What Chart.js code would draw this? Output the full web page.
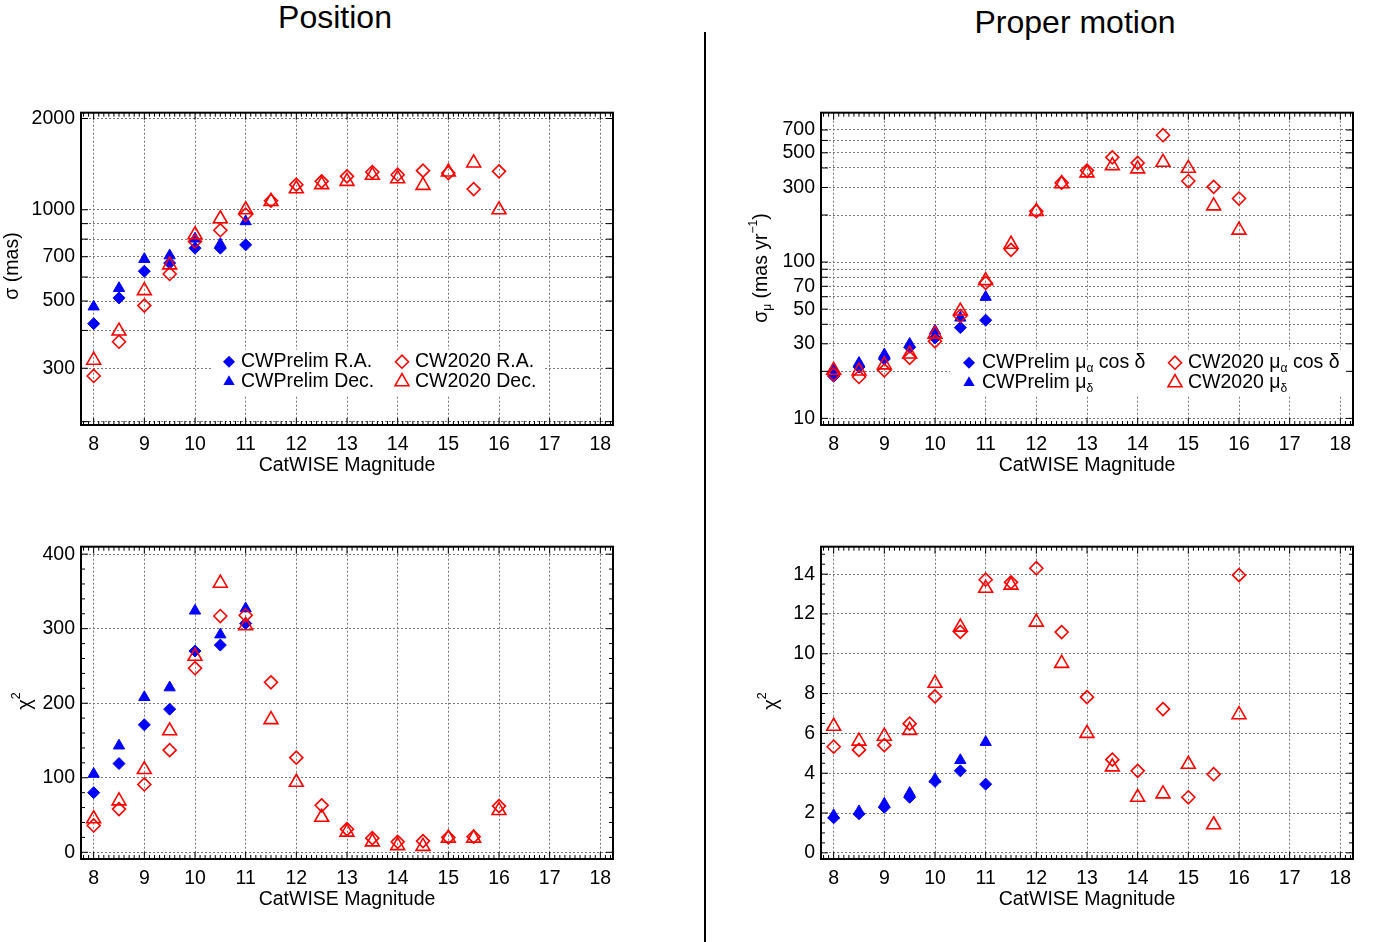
<!DOCTYPE html>
<html>
<head>
<meta charset="utf-8">
<title>CatWISE astrometry</title>
<script src="https://cdn.jsdelivr.net/npm/chart.js@4/dist/chart.umd.min.js"></script>
<style>
  body { margin: 0; width: 1375px; height: 942px; background: #fff; position: relative; overflow: hidden;
         font-family: "Liberation Sans", Arial, sans-serif; }
  .title { position: absolute; font-size: 32px; line-height: 32px; color: #000; text-align: center; width: 400px; }
  .panel { position: absolute; }
  #divider { position: absolute; left: 704px; top: 32px; width: 2px; height: 910px; background: #000; }
</style>
</head>
<body>
<div class="title" style="left:135px; top:1px;">Position</div>
<div class="title" style="left:875px; top:6px;">Proper motion</div>
<div id="divider"></div>

<canvas class="panel" id="posSig" width="640" height="395" style="left:0; top:95px;"></canvas>
<canvas class="panel" id="pmSig" width="635" height="395" style="left:740px; top:95px;"></canvas>
<canvas class="panel" id="posChi" width="640" height="395" style="left:0; top:529px;"></canvas>
<canvas class="panel" id="pmChi" width="635" height="395" style="left:740px; top:529px;"></canvas>

<script>
// magnitude bins
const mags = [8, 8.5, 9, 9.5, 10, 10.5, 11, 11.5, 12, 12.5, 13, 13.5, 14, 14.5, 15, 15.5, 16];
const xTicks = [8, 9, 10, 11, 12, 13, 14, 15, 16, 17, 18];

// Position sigma (mas) -- CWPrelim only goes to mag 11
const posSigPrelimRA  = [421, 512, 627, 667, 747, 747, 766];
const posSigPrelimDec = [479, 551, 687, 706, 802, 770, 915];
const posSigCW20RA  = [283, 367, 483, 614, 786, 856, 963, 1071, 1210, 1241, 1289, 1332, 1305, 1346, 1322, 1170, 1339];
const posSigCW20Dec = [319, 398, 541, 658, 827, 934, 1000, 1066, 1173, 1210, 1241, 1299, 1266, 1203, 1332, 1427, 1000];

// Proper motion sigma (mas/yr)
const pmSigPrelimRA  = [18.6, 21.3, 24, 28.5, 32.7, 38.1, 42.5];
const pmSigPrelimDec = [20.7, 22.6, 25.6, 29.9, 36.3, 44, 59.7];
const pmSigCW20RA  = [19.1, 18.4, 20.3, 24.4, 31.1, 45.2, 73.6, 119.7, 211.6, 322, 385, 468, 431, 648, 330, 303, 255];
const pmSigCW20Dec = [20.3, 20.1, 22, 25.8, 34.6, 48.6, 76.1, 130, 211, 317, 372, 414, 395, 435, 398, 229, 160];

// Position chi^2
const posChiPrelimRA  = [80, 119, 171, 192, 270, 278, 307];
const posChiPrelimDec = [105, 143, 208, 221, 324, 292, 327];
const posChiCW20RA  = [36, 58, 91, 137, 247, 317, 318, 228, 127, 63, 31, 19, 14, 15, 20, 21, 62];
const posChiCW20Dec = [45, 69, 111, 163, 263, 361, 304, 178, 94, 47, 27, 14, 9, 8, 19, 19, 56];

// Proper motion chi^2
const pmChiPrelimRA  = [1.76, 1.96, 2.29, 2.79, 3.59, 4.12, 3.45];
const pmChiPrelimDec = [1.88, 2.08, 2.46, 3.0, 3.7, 4.65, 5.56];
const pmChiCW20RA  = [5.33, 5.17, 5.41, 6.49, 7.86, 11.1, 13.72, 13.59, 14.3, 11.09, 7.82, 4.68, 4.12, 7.22, 2.79, 3.95, 13.95];
const pmChiCW20Dec = [6.36, 5.61, 5.86, 6.15, 8.52, 11.34, 13.29, 13.45, 11.59, 9.52, 6.0, 4.32, 2.79, 2.96, 4.45, 1.41, 6.94];

// y tick values (gridlines) and which ones carry labels
const posSigGrid = [200, 300, 400, 500, 600, 700, 800, 900, 1000, 2000];
const posSigLabels = [300, 500, 700, 1000, 2000];
const pmSigGrid = [10, 20, 30, 40, 50, 60, 70, 80, 90, 100, 200, 300, 400, 500, 600, 700];
const pmSigLabels = [10, 30, 50, 70, 100, 300, 500, 700];
const posChiTicks = [0, 100, 200, 300, 400];
const pmChiTicks = [0, 2, 4, 6, 8, 10, 12, 14];

// legend text, split in pieces so sub/superscripts can be drawn
const posLegend = [
  [{t: 'CWPrelim R.A.'}], [{t: 'CWPrelim Dec.'}], [{t: 'CW2020 R.A.'}], [{t: 'CW2020 Dec.'}]
];
const pmLegend = [
  [{t: 'CWPrelim \u03bc'}, {t: '\u03b1', sub: 1}, {t: ' cos \u03b4'}],
  [{t: 'CWPrelim \u03bc'}, {t: '\u03b4', sub: 1}],
  [{t: 'CW2020 \u03bc'}, {t: '\u03b1', sub: 1}, {t: ' cos \u03b4'}],
  [{t: 'CW2020 \u03bc'}, {t: '\u03b4', sub: 1}]
];

const FONT = '"Liberation Sans", Arial, sans-serif';
const BLUE = '#0000ff';
const RED = '#ff0000';
const GRID = '#7a7a7a';

Chart.defaults.font.family = FONT;
Chart.defaults.font.size = 19;
Chart.defaults.color = '#000';

function pts(ys) {
  return ys.map((y, i) => ({x: mags[i], y: y}));
}

function series(label, ys, kind) {
  const filled = kind.startsWith('blue');
  const tri = kind.endsWith('tri');
  return {
    label: label,
    data: pts(ys),
    showLine: false,
    pointStyle: tri ? 'triangle' : 'rectRot',
    pointRadius: filled ? (tri ? 6.5 : 6) : (tri ? 8 : 6.5),
    pointHoverRadius: filled ? 6 : 7,
    pointBackgroundColor: filled ? BLUE : 'rgba(0,0,0,0)',
    pointBorderColor: filled ? BLUE : RED,
    pointBorderWidth: filled ? 1 : 1.6
  };
}

// draw text pieces with sub/superscripts
function richWidth(ctx, segs, size) {
  let w = 0;
  segs.forEach(s => {
    ctx.font = ((s.sub || s.sup) ? size * 0.62 : size) + 'px ' + FONT;
    w += ctx.measureText(s.t).width;
  });
  return w;
}
function drawRich(ctx, segs, x, y, size, align) {
  const w = richWidth(ctx, segs, size);
  let cx = align === 'center' ? x - w / 2 : x;
  ctx.textAlign = 'left';
  ctx.textBaseline = 'middle';
  segs.forEach(s => {
    const small = s.sub || s.sup;
    ctx.font = (small ? size * 0.62 : size) + 'px ' + FONT;
    const dy = s.sub ? size * 0.3 : (s.sup ? -size * 0.42 : 0);
    ctx.fillText(s.t, cx, y + dy);
    cx += ctx.measureText(s.t).width;
  });
}

function marker(ctx, kind, x, y) {
  const filled = kind.startsWith('blue');
  const tri = kind.endsWith('tri');
  const r = filled ? (tri ? 6.5 : 6) : (tri ? 8 : 6.5);
  ctx.beginPath();
  if (tri) {
    ctx.moveTo(x, y - r);
    ctx.lineTo(x + r * 0.866, y + r / 2);
    ctx.lineTo(x - r * 0.866, y + r / 2);
  } else {
    ctx.moveTo(x - r, y); ctx.lineTo(x, y - r); ctx.lineTo(x + r, y); ctx.lineTo(x, y + r);
  }
  ctx.closePath();
  if (filled) { ctx.fillStyle = BLUE; ctx.fill(); }
  else { ctx.strokeStyle = RED; ctx.lineWidth = 1.6; ctx.stroke(); }
}

// frame with inward IDL-style tick marks, plus y title and legend
const idlPlugin = {
  id: 'idl',
  beforeDatasetsDraw(chart, args, o) {
    const ctx = chart.ctx, a = chart.chartArea;
    if (!o.legend) return;
    const L = o.legend;
    ctx.save();
    ctx.fillStyle = '#fff';
    ctx.fillRect(a.left + L.box[0], a.top + L.box[1], L.box[2], L.box[3]);
    const kinds = ['blue-dia', 'blue-tri', 'red-dia', 'red-tri'];
    kinds.forEach((k, i) => {
      const col = i < 2 ? 0 : 1, row = i % 2;
      const y = a.top + L.rowY[row];
      marker(ctx, k, a.left + L.mx[col], y);
      ctx.fillStyle = '#000';
      drawRich(ctx, L.items[i], a.left + L.tx[col], y, 19.5, 'left');
    });
    ctx.restore();
  },
  afterDraw(chart, args, o) {
    const ctx = chart.ctx, a = chart.chartArea;
    const xs = chart.scales.x, ys = chart.scales.y;
    ctx.save();
    ctx.strokeStyle = '#000';
    ctx.lineWidth = 1;
    ctx.beginPath();
    const tick = (px, len, horiz) => {
      if (horiz) {
        ctx.moveTo(px, a.bottom); ctx.lineTo(px, a.bottom - len);
        ctx.moveTo(px, a.top); ctx.lineTo(px, a.top + len);
      } else {
        ctx.moveTo(a.left, px); ctx.lineTo(a.left + len, px);
        ctx.moveTo(a.right, px); ctx.lineTo(a.right - len, px);
      }
    };
    for (let v = 78; v <= 182; v++) {
      const val = v / 10;
      if (val < xs.min || val > xs.max) continue;
      tick(xs.getPixelForValue(val), v % 10 === 0 ? 7 : 4, true);
    }
    o.yMajor.forEach(v => tick(ys.getPixelForValue(v), 7, false));
    (o.yMinor || []).forEach(v => tick(ys.getPixelForValue(v), 4, false));
    ctx.stroke();
    ctx.lineWidth = 2;
    ctx.strokeRect(a.left, a.top, a.right - a.left, a.bottom - a.top);
    // y-axis title, rotated
    ctx.translate(o.yTitle.x, o.yTitle.y);
    ctx.rotate(-Math.PI / 2);
    ctx.fillStyle = '#000';
    drawRich(ctx, o.yTitle.segs, 0, 0, o.yTitle.size, 'center');
    ctx.restore();
  }
};

function makeChart(id, datasets, yOpts, idlOpts, rightPad) {
  new Chart(document.getElementById(id), {
    type: 'scatter',
    data: {datasets: datasets},
    plugins: [idlPlugin],
    options: {
      responsive: false,
      animation: false,
      events: [],
      layout: {padding: {top: 15, right: rightPad, bottom: 5, left: 0}},
      plugins: {legend: {display: false}, tooltip: {enabled: false}, idl: idlOpts},
      scales: {
        x: {
          type: 'linear', min: 7.75, max: 18.25,
          afterBuildTicks: s => { s.ticks = xTicks.map(v => ({value: v})); },
          afterFit: s => { s.height = 60; },
          grid: {color: GRID, lineWidth: 1, drawTicks: false},
          border: {display: false, dash: [2, 2]},
          ticks: {padding: 8, autoSkip: false, maxRotation: 0, font: {size: 19.5}, callback: v => String(v)},
          title: {display: true, text: 'CatWISE Magnitude', font: {size: 19.5}, padding: {top: 0, bottom: 8}}
        },
        y: Object.assign({
          afterFit: s => { s.width = 81; },
          grid: {color: GRID, lineWidth: 1, drawTicks: false},
          border: {display: false, dash: [2, 2]},
        }, yOpts)
      }
    }
  });
}

function yTickList(list, labels) {
  return {
    afterBuildTicks: s => { s.ticks = list.map(v => ({value: v})); },
    ticks: {padding: 6, autoSkip: false, font: {size: 19.5},
            callback: v => (labels.includes(v) ? String(v) : '')}
  };
}

function minorList(lo, hi, step, majorStep) {
  const out = [];
  for (let v = lo; v <= hi + 1e-9; v += step) {
    const r = Math.round(v / majorStep * 1000) / 1000;
    if (Math.abs(r - Math.round(r)) > 1e-6) out.push(Math.round(v * 1000) / 1000);
  }
  return out;
}

// Position sigma
makeChart('posSig', [
  series('CW2020 R.A.', posSigCW20RA, 'red-dia'),
  series('CW2020 Dec.', posSigCW20Dec, 'red-tri'),
  series('CWPrelim R.A.', posSigPrelimRA, 'blue-dia'),
  series('CWPrelim Dec.', posSigPrelimDec, 'blue-tri')
], Object.assign({type: 'logarithmic', min: 195, max: 2090}, yTickList(posSigGrid, posSigLabels)), {
  yMajor: posSigGrid,
  yTitle: {x: 13, y: 171, size: 19.5, segs: [{t: '\u03c3 (mas)'}]},
  legend: {box: [131, 237, 333, 46], rowY: [249, 269], mx: [148, 321], tx: [160, 334], items: posLegend}
}, 27);

// Proper motion sigma
makeChart('pmSig', [
  series('CW2020 mu_a cos d', pmSigCW20RA, 'red-dia'),
  series('CW2020 mu_d', pmSigCW20Dec, 'red-tri'),
  series('CWPrelim mu_a cos d', pmSigPrelimRA, 'blue-dia'),
  series('CWPrelim mu_d', pmSigPrelimDec, 'blue-tri')
], Object.assign({type: 'logarithmic', min: 9.07, max: 903}, yTickList(pmSigGrid, pmSigLabels)), {
  yMajor: pmSigGrid,
  yTitle: {x: 22, y: 173, size: 19.5, segs: [{t: '\u03c3'}, {t: '\u03bc', sub: 1}, {t: ' (mas yr'}, {t: '\u22121', sup: 1}, {t: ')'}]},
  legend: {box: [129, 237, 397, 46], rowY: [250, 270], mx: [148, 354], tx: [161, 367], items: pmLegend}
}, 22);

// Position chi^2
makeChart('posChi', [
  series('CW2020 R.A.', posChiCW20RA, 'red-dia'),
  series('CW2020 Dec.', posChiCW20Dec, 'red-tri'),
  series('CWPrelim R.A.', posChiPrelimRA, 'blue-dia'),
  series('CWPrelim Dec.', posChiPrelimDec, 'blue-tri')
], Object.assign({type: 'linear', min: -9, max: 410}, yTickList(posChiTicks, posChiTicks)), {
  yMajor: posChiTicks,
  yMinor: minorList(0, 400, 20, 100),
  yTitle: {x: 25, y: 172, size: 20, segs: [{t: '\u03c7'}, {t: '2', sup: 1}]}
}, 27);

// Proper motion chi^2
makeChart('pmChi', [
  series('CW2020 mu_a cos d', pmChiCW20RA, 'red-dia'),
  series('CW2020 mu_d', pmChiCW20Dec, 'red-tri'),
  series('CWPrelim mu_a cos d', pmChiPrelimRA, 'blue-dia'),
  series('CWPrelim mu_d', pmChiPrelimDec, 'blue-tri')
], Object.assign({type: 'linear', min: -0.31, max: 15.38}, yTickList(pmChiTicks, pmChiTicks)), {
  yMajor: pmChiTicks,
  yMinor: minorList(0, 15, 0.5, 2),
  yTitle: {x: 31, y: 172, size: 20, segs: [{t: '\u03c7'}, {t: '2', sup: 1}]}
}, 22);
</script>
</body>
</html>
